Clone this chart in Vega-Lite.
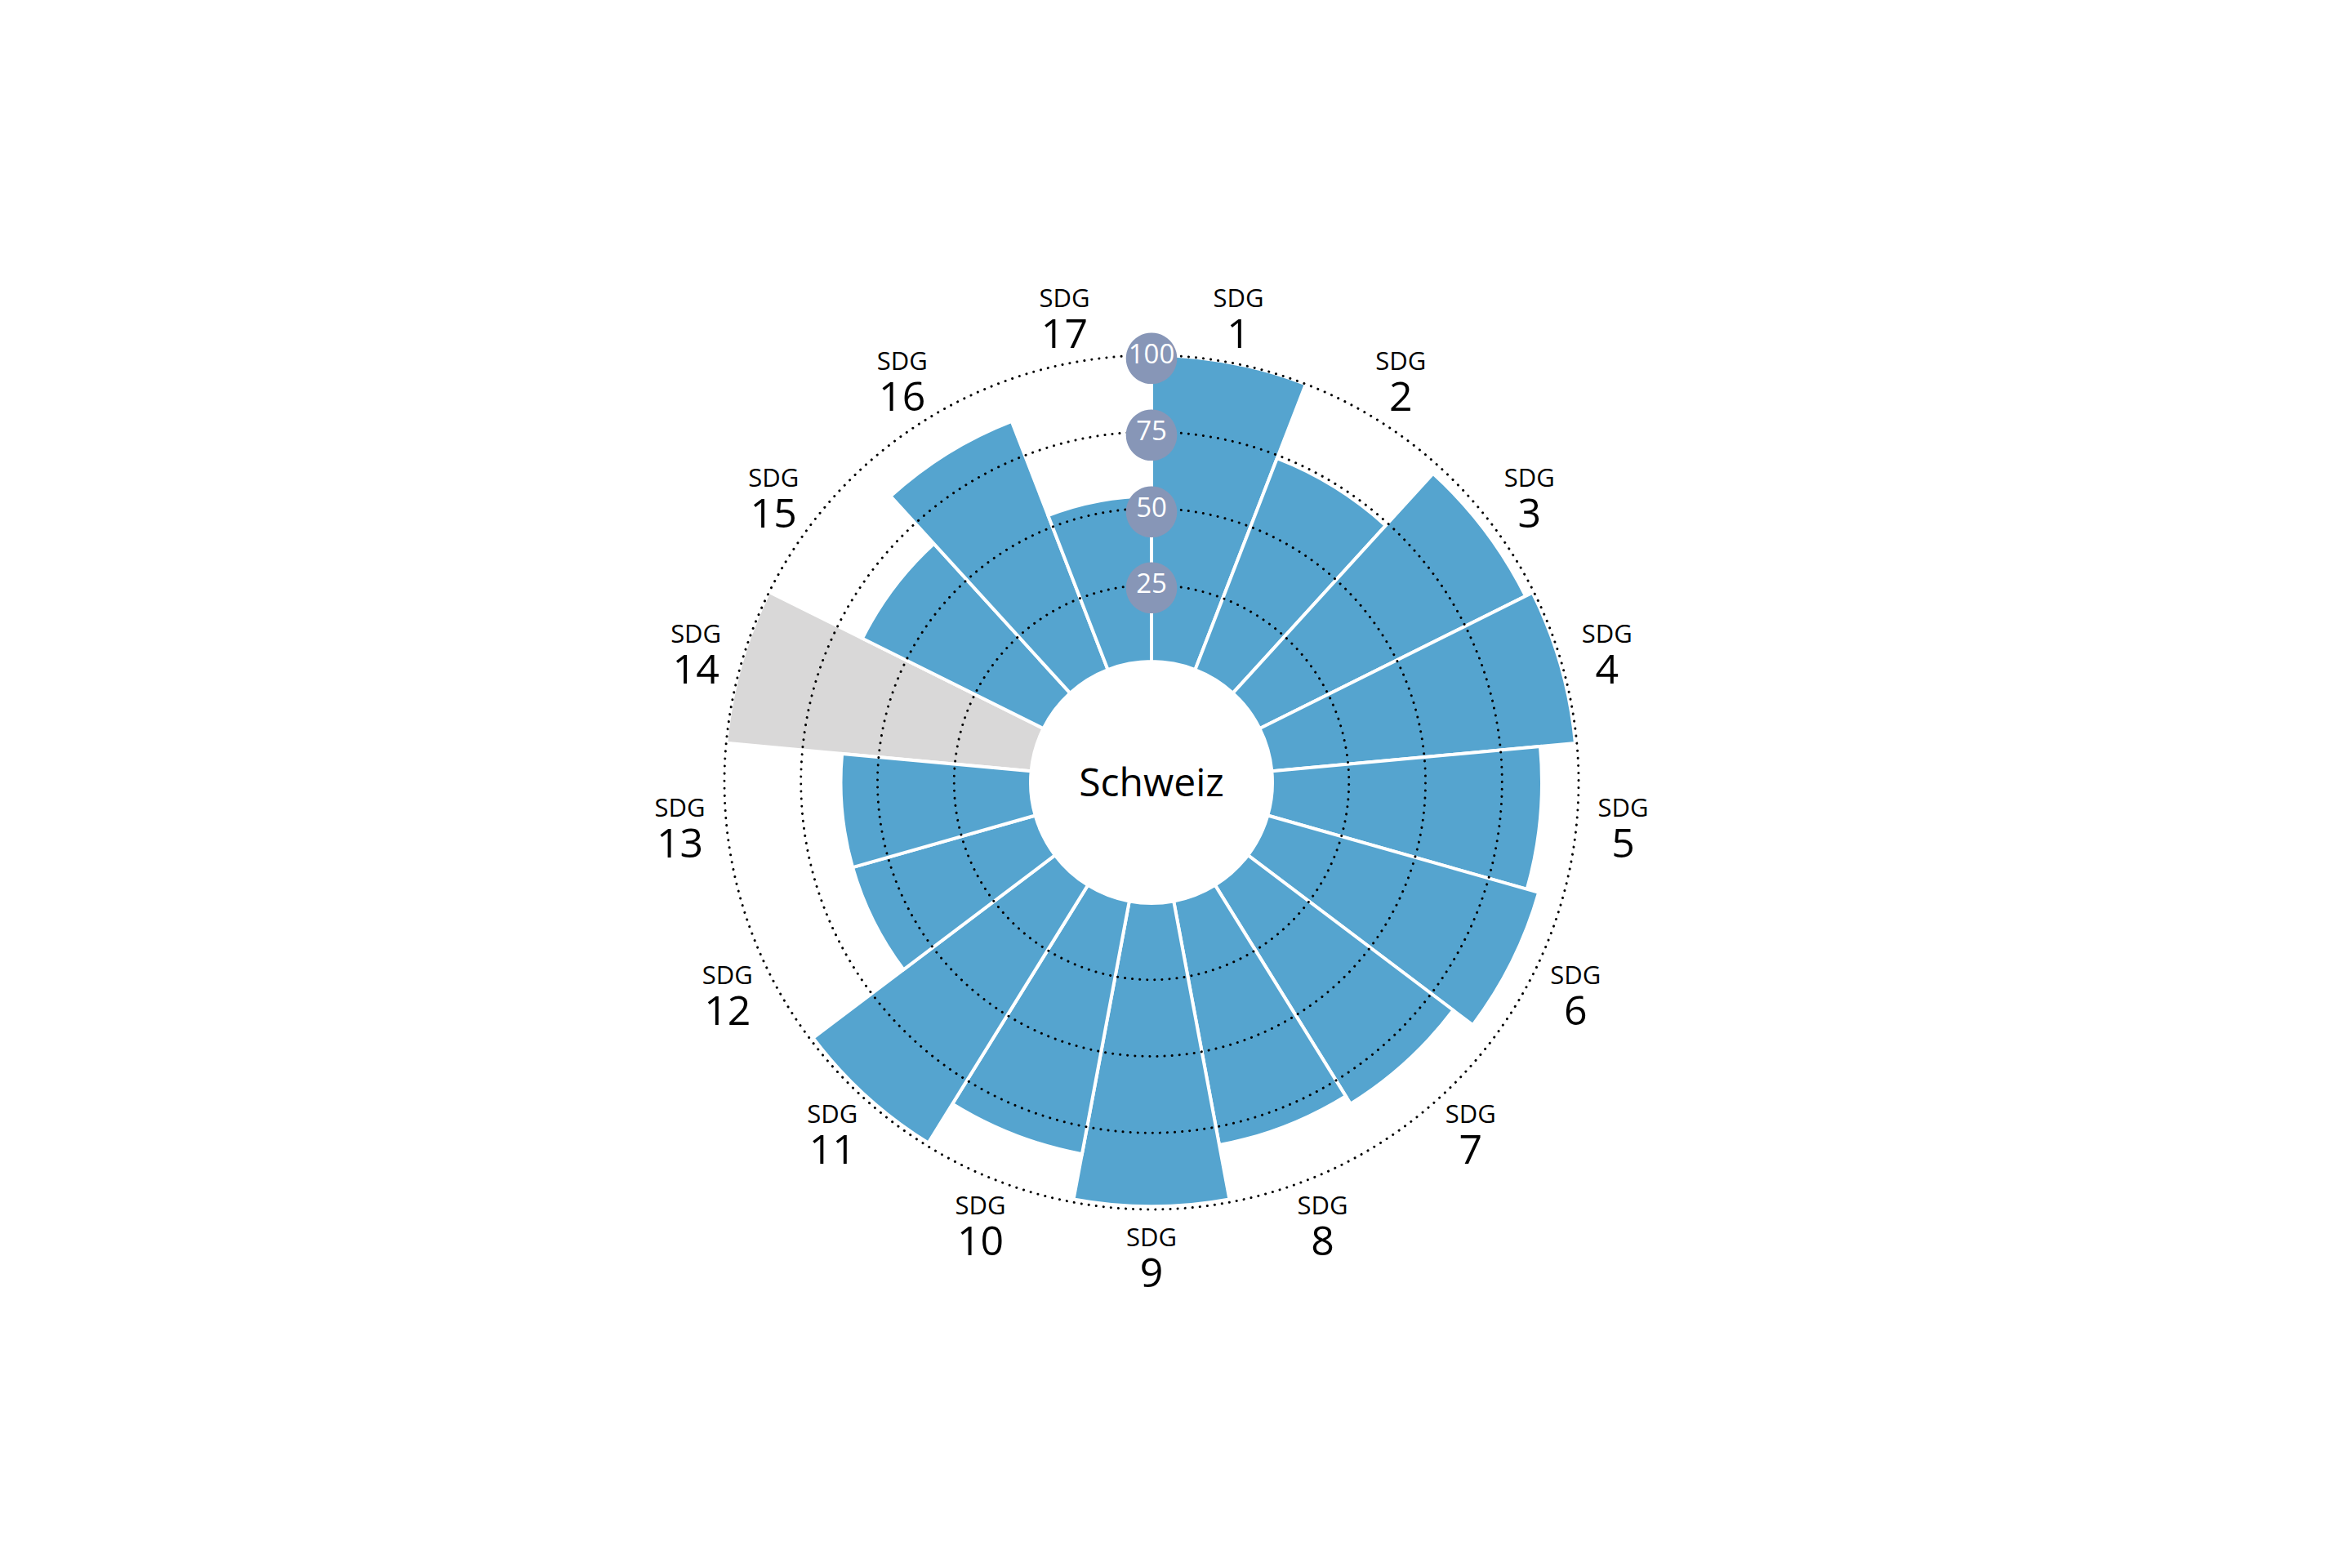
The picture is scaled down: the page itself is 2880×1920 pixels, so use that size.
{
  "$schema": "https://vega.github.io/schema/vega-lite/v6.json",
  "width": 2820,
  "height": 1916,
  "autosize": "none",
  "padding": 0,
  "background": "white",
  "config": {"view": {"stroke": null}, "font": "Open Sans"},
  "datasets": {
    "scores": [
      {"sdg": 1, "score": 100},
      {"sdg": 2, "score": 74},
      {"sdg": 3, "score": 97},
      {"sdg": 4, "score": 99.5},
      {"sdg": 5, "score": 88},
      {"sdg": 6, "score": 92},
      {"sdg": 7, "score": 84},
      {"sdg": 8, "score": 81},
      {"sdg": 9, "score": 99},
      {"sdg": 10, "score": 84},
      {"sdg": 11, "score": 99},
      {"sdg": 12, "score": 62},
      {"sdg": 13, "score": 62},
      {"sdg": 14, "score": null, "status": "n/a"},
      {"sdg": 15, "score": 66},
      {"sdg": 16, "score": 87},
      {"sdg": 17, "score": 54}
    ],
    "ticks": [
      {"tick": 25},
      {"tick": 50},
      {"tick": 75},
      {"tick": 100}
    ]
  },
  "layer": [
    {
      "data": {"name": "scores"},
      "transform": [{"filter": "datum.status == 'n/a'"}],
      "mark": {"type": "arc", "fill": "#d9d8d8", "stroke": "white", "strokeWidth": 4},
      "encoding": {
        "theta": {"field": "sdg", "type": "ordinal", "scale": {"paddingInner": 0, "paddingOuter": 0}},
        "radius": {"datum": 100, "type": "quantitative", "stack": null, "scale": {"type": "linear", "domain": [0, 100], "range": [148, 523]}},
        "radius2": {"datum": 0}
      }
    },
    {
      "data": {"name": "scores"},
      "transform": [{"filter": "isValid(datum.score)"}],
      "mark": {"type": "arc", "fill": "#55a4cf", "stroke": "white", "strokeWidth": 4},
      "encoding": {
        "theta": {"field": "sdg", "type": "ordinal"},
        "radius": {"field": "score", "type": "quantitative", "stack": null},
        "radius2": {"datum": 0}
      }
    },
    {
      "data": {"name": "ticks"},
      "mark": {"type": "arc", "theta": 0, "theta2": 6.2832, "fill": null, "filled": false, "stroke": "black", "strokeWidth": 3, "strokeDash": [0.1, 9], "strokeCap": "round"},
      "encoding": {
        "radius": {"field": "tick", "type": "quantitative", "stack": null},
        "radius2": {"value": 0}
      }
    },
    {
      "data": {"name": "ticks"},
      "mark": {"type": "text", "text": "●", "fontSize": 82, "color": "#8796b7", "align": "center", "baseline": "middle", "font": "DejaVu Sans"},
      "encoding": {
        "theta": {"value": 0},
        "radius": {"field": "tick", "type": "quantitative", "stack": null}
      }
    },
    {
      "data": {"name": "ticks"},
      "mark": {"type": "text", "fontSize": 33, "color": "white", "align": "center", "baseline": "middle"},
      "encoding": {
        "theta": {"value": 0},
        "radius": {"field": "tick", "type": "quantitative", "stack": null},
        "text": {"field": "tick", "type": "quantitative"}
      }
    },
    {
      "data": {"name": "scores"},
      "mark": {"type": "text", "text": "SDG", "fontSize": 31, "color": "black", "align": "center", "baseline": "middle", "dy": -21},
      "encoding": {
        "theta": {"field": "sdg", "type": "ordinal"},
        "radius": {"value": 580}
      }
    },
    {
      "data": {"name": "scores"},
      "mark": {"type": "text", "fontSize": 50, "color": "black", "align": "center", "baseline": "middle", "dy": 23},
      "encoding": {
        "theta": {"field": "sdg", "type": "ordinal"},
        "radius": {"value": 580},
        "text": {"field": "sdg", "type": "nominal"}
      }
    },
    {
      "data": {"values": [{"land": "Schweiz"}]},
      "mark": {"type": "text", "fontSize": 48, "color": "black", "align": "center", "baseline": "middle", "dy": 3},
      "encoding": {
        "text": {"field": "land", "type": "nominal"}
      }
    }
  ]
}
